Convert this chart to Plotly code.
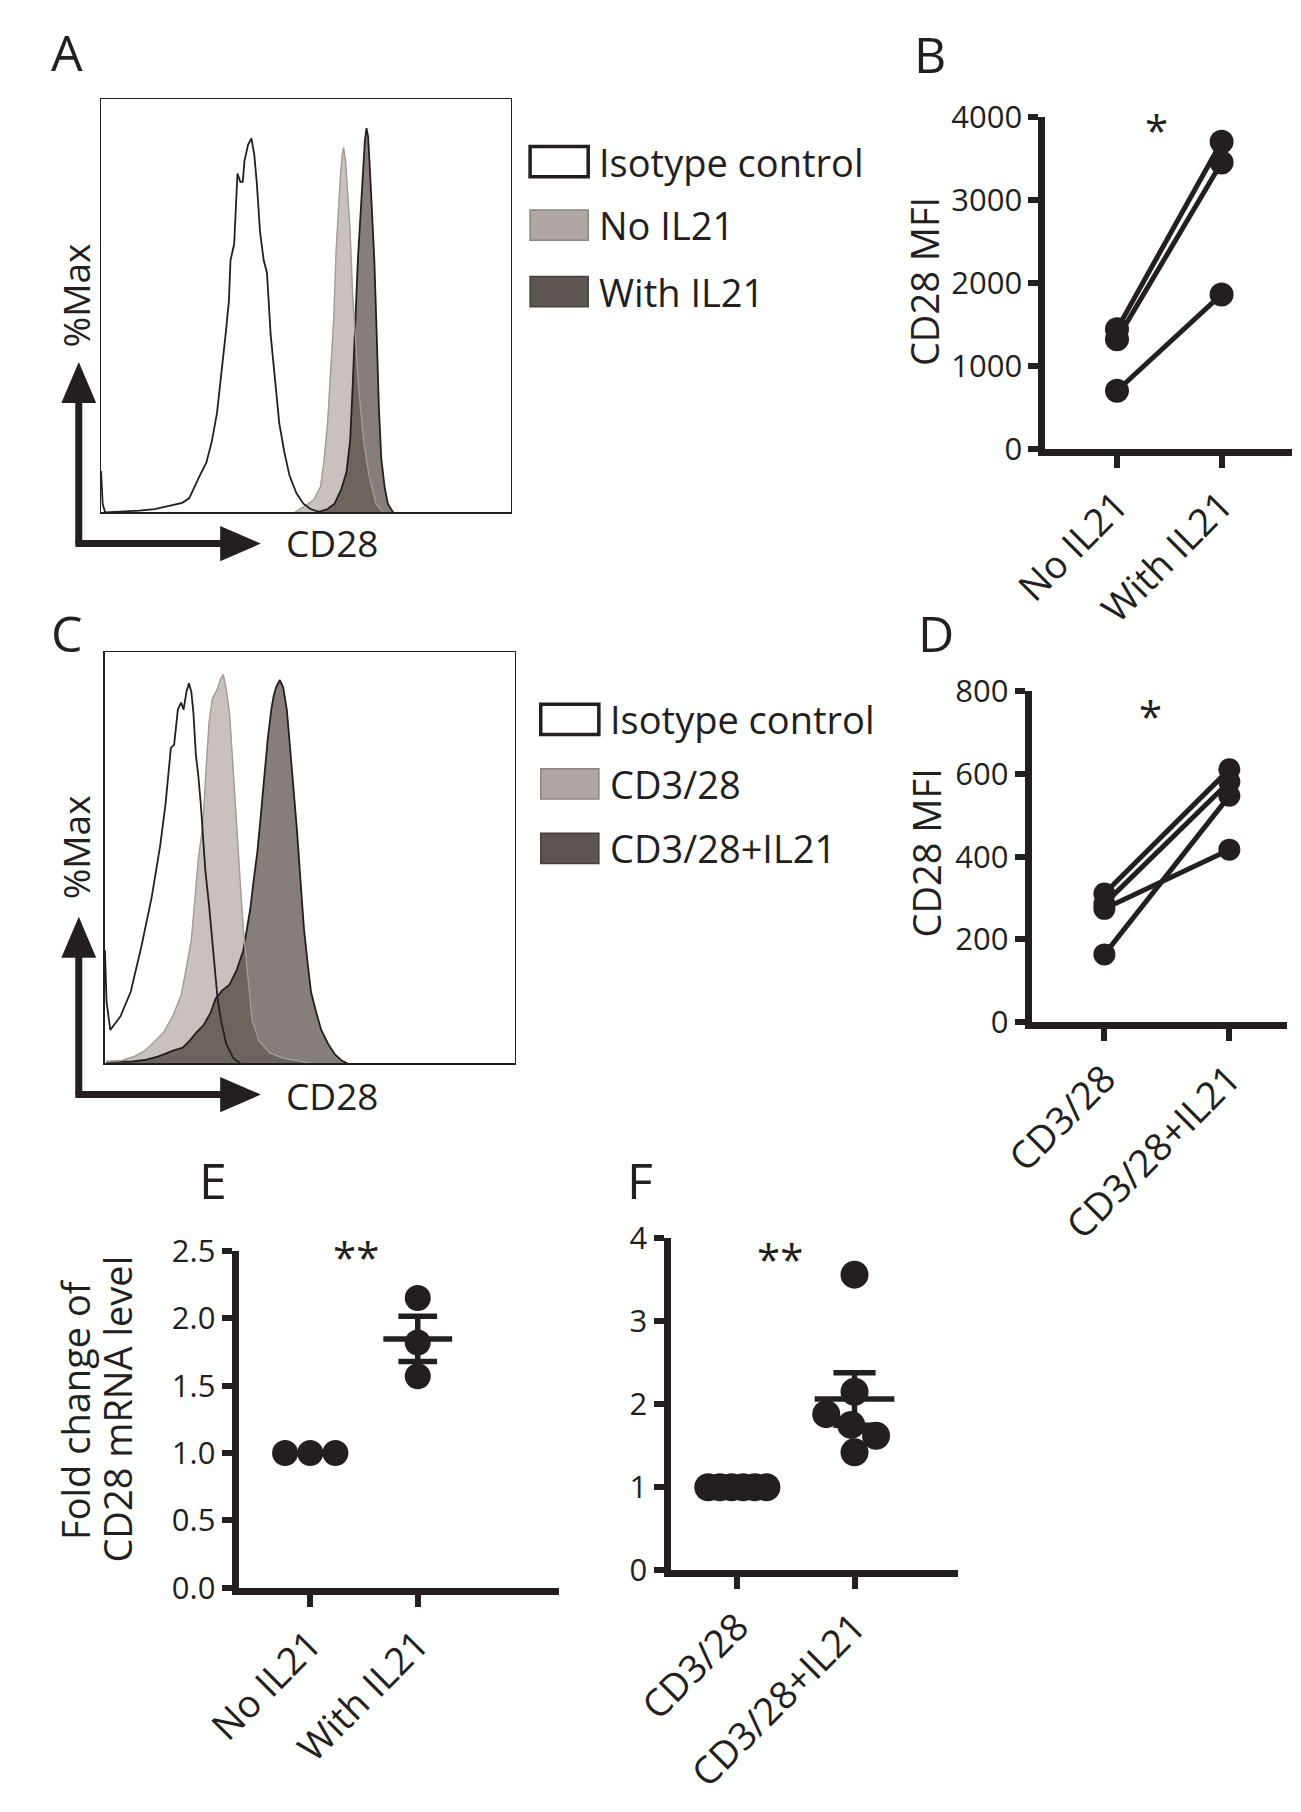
import math
import numpy as np
import plotly.graph_objects as go

# ---------------- DATA ----------------
# Panel A histograms (x: CD28 channel position 0-100, y: % of frame height)
A_iso_x = [0, 0.4, 1.0, 9.3, 13.1, 17.3, 19.8, 21.5, 22.8, 24.1, 25.7, 27.0, 28.3, 29.5, 30.4, 31.2, 31.6, 32.5,
           32.9, 33.3, 34.0, 34.6, 35.0, 35.9, 36.7, 37.4, 38.0, 38.8, 39.7, 40.5, 41.4, 42.6, 43.5, 44.7, 46.0,
           47.7, 49.4, 51.1, 53.6]
A_iso_y = [10, 2, 0, 0.4, 0.8, 1.7, 2.3, 3.4, 6.3, 8.9, 12, 17, 24, 34, 43, 51, 61, 65, 75, 82, 80, 80, 85, 89,
           90.5, 86.6, 80, 68, 61, 58, 43, 30, 21.6, 14.8, 8.9, 4.6, 2.1, 0.8, 0]
A_no_x = [47.3, 49.4, 51.9, 53.6, 54.4, 55.3, 56.1, 56.8, 57.4, 58.0, 58.5, 58.9, 59.2, 59.7, 60.2, 60.8, 61.4,
          62.0, 62.9, 64.1, 65.4, 67.1, 68.8]
A_no_y = [0, 1.3, 3.0, 6.3, 12.3, 21.6, 34.2, 46.9, 63.8, 74.8, 82.4, 86.6, 88.3, 85, 78.2, 68, 52.8, 42.7, 30,
          17.3, 8.9, 2.1, 0]
A_with_x = [52.7, 55.3, 57.0, 58.6, 59.9, 60.8, 61.4, 61.9, 62.3, 62.7, 63.3, 63.9, 64.4, 64.8, 65.2, 65.7, 66.2,
            66.7, 67.3, 67.8, 68.4, 69.2, 70.0, 71.3]
A_with_y = [0, 0.8, 2.1, 5.5, 9.7, 17.3, 30, 42.7, 52, 61.3, 71.4, 81.6, 90, 93, 90.9, 81.6, 71.4, 61.3, 42.7,
            25.8, 13.1, 6.3, 2.1, 0]
A_legend = ["Isotype control", "No IL21", "With IL21"]

# Panel C histograms
C_iso_x = [0, 0.4, 1.3, 3.8, 6.3, 8.9, 11.4, 13.5, 14.8, 16.1, 16.9, 17.8, 18.6, 19.2, 19.9, 20.5, 21.1, 21.6,
           22.2, 22.8, 23.4, 23.9, 24.5, 25.4, 26.6, 27.5, 28.3, 29.6, 31.3, 33.0]
C_iso_y = [27.5, 15, 8.1, 11.4, 17.4, 28.4, 40.3, 53, 63.1, 76.7, 77.5, 86, 87.7, 86, 90.3, 92.4, 90.3, 85.2, 75,
           69.9, 63.1, 55.5, 47, 38.6, 25.8, 15.7, 10.6, 4.7, 1.3, 0]
C_no_x = [0.4, 3.8, 7.2, 9.7, 12.3, 14.4, 16.5, 18.6, 19.9, 21.1, 22.0, 22.8, 23.7, 24.1, 24.8, 25.4, 26.2, 27.5,
          28.3, 28.9, 29.6, 30.4, 31.3, 32.1, 33.0, 33.8, 34.7, 35.9, 37.6, 40.2, 43.5, 47.8, 50.3]
C_no_y = [0.4, 0.6, 1.7, 3, 5.5, 7.6, 11.4, 16.5, 23.3, 30.1, 40.3, 49.6, 56.4, 61.4, 73.3, 82.6, 88.6, 91.1, 93.6,
          94.5, 91.1, 85.2, 71.6, 58.1, 44.5, 32.6, 22.5, 10.6, 5.5, 2.5, 1.3, 0.4, 0]
C_with_x = [0.4, 6.3, 9.7, 13.1, 16.5, 19.0, 20.7, 22.4, 24.1, 25.8, 27.0, 28.7, 30.4, 32.1, 33.8, 34.7, 35.5,
            36.3, 37.2, 38.0, 38.9, 39.7, 40.6, 41.2, 41.8, 42.7, 43.5, 44.4, 45.2, 46.1, 46.9, 47.8, 48.6, 49.5,
            50.3, 51.6, 52.8, 54.5, 56.2, 57.9, 59.2]
C_with_y = [0.4, 0.4, 0.8, 1.7, 3, 3.8, 5.5, 7.6, 9.3, 12.3, 15.7, 17.8, 19.1, 22.5, 27.5, 32.6, 37.7, 44.5, 51.3,
            59.7, 69.9, 78.4, 86, 89.4, 91.5, 93.2, 91.5, 86, 76.7, 66.5, 56.4, 43.6, 32.6, 24.2, 17.4, 12.3, 8.1,
            4.7, 2.1, 0.6, 0]
C_legend = ["Isotype control", "CD3/28", "CD3/28+IL21"]

# Panel B: CD28 MFI, paired donors
B_cats = ["No IL21", "With IL21"]
B_no = [1440, 1320, 700]
B_with = [3700, 3450, 1860]

# Panel D: CD28 MFI, paired donors
D_cats = ["CD3/28", "CD3/28+IL21"]
D_no = [311, 286, 164, 274]
D_with = [611, 581, 547, 417]

# Panel E: fold change of CD28 mRNA
E_cats = ["No IL21", "With IL21"]
E_no = [1.0, 1.0, 1.0]
E_with = [2.15, 1.82, 1.57]

# Panel F: fold change of CD28 mRNA
F_cats = ["CD3/28", "CD3/28+IL21"]
F_no = [1.0, 1.0, 1.0, 1.0, 1.0, 1.0]
F_with = [3.56, 2.15, 1.88, 1.75, 1.62, 1.42]

# ---------------- LAYOUT HELPERS ----------------
W, H = 1301, 1812
INK = "#231f20"
FONT = "Open Sans"


def px(x):
    return x / W


def py(y):
    return 1 - y / H


fig = go.Figure()
shapes = []
annots = []


def text(x, y, s, size, angle=0, xanchor="center", yanchor="middle"):
    annots.append(dict(x=px(x), y=py(y), xref="paper", yref="paper", text=s, showarrow=False,
                       font=dict(family=FONT, size=size, color=INK), textangle=angle,
                       xanchor=xanchor, yanchor=yanchor))


def rect(x0, y0, x1, y1, fill, line, lw):
    shapes.append(dict(type="rect", xref="paper", yref="paper", x0=px(x0), x1=px(x1), y0=py(y1), y1=py(y0),
                       fillcolor=fill, line=dict(color=line, width=lw)))


def arrows(cx, cy, tip_up, tip_right):
    lw = 7
    head_l, head_w = 42, 36
    shapes.append(dict(type="line", xref="paper", yref="paper", x0=px(cx), y0=py(cy), x1=px(cx),
                       y1=py(tip_up + head_l - 4), line=dict(color=INK, width=lw)))
    shapes.append(dict(type="line", xref="paper", yref="paper", x0=px(cx - lw / 2), y0=py(cy),
                       x1=px(tip_right - head_l + 4), y1=py(cy), line=dict(color=INK, width=lw)))
    p_up = "M {} {} L {} {} L {} {} Z".format(px(cx), py(tip_up), px(cx - head_w / 2), py(tip_up + head_l),
                                             px(cx + head_w / 2), py(tip_up + head_l))
    p_rt = "M {} {} L {} {} L {} {} Z".format(px(tip_right), py(cy), px(tip_right - head_l), py(cy - head_w / 2),
                                             px(tip_right - head_l), py(cy + head_w / 2))
    for p in (p_up, p_rt):
        shapes.append(dict(type="path", xref="paper", yref="paper", path=p, fillcolor=INK, line=dict(width=0)))


LIGHT_FILL = "#c8c1bd"
LIGHT_LINE = "#a29b97"
DARK_FILL = "rgba(45,33,25,0.58)"
LEG_LIGHT = "#aea7a3"
LEG_DARK = "#5c5552"

layout_axes = {}


def hist_panel(idx, box, iso, no, wi, legend, leg_x, leg_rows, arrow_cfg, max_lbl, cd_lbl):
    x0, y0, x1, y1 = box
    xa, ya = ("x", "y") if idx == 1 else ("x%d" % idx, "y%d" % idx)
    kx, ky = ("xaxis", "yaxis") if idx == 1 else ("xaxis%d" % idx, "yaxis%d" % idx)
    common = dict(showgrid=False, zeroline=False, showticklabels=False, ticks="", showline=True,
                  linecolor=INK, linewidth=1.5, mirror=True)
    layout_axes[kx] = dict(domain=[px(x0), px(x1)], range=[0, 100], anchor=ya, **common)
    layout_axes[ky] = dict(domain=[py(y1), py(y0)], range=[0, 100], anchor=xa, **common)
    fig.add_trace(go.Scatter(x=no[0], y=no[1], xaxis=xa, yaxis=ya, mode="lines", fill="tozeroy",
                             fillcolor=LIGHT_FILL, line=dict(color=LIGHT_FILL, width=0.5), showlegend=False))
    fig.add_trace(go.Scatter(x=wi[0], y=wi[1], xaxis=xa, yaxis=ya, mode="lines", fill="tozeroy",
                             fillcolor=DARK_FILL, line=dict(color=INK, width=1.8), showlegend=False))
    fig.add_trace(go.Scatter(x=no[0], y=no[1], xaxis=xa, yaxis=ya, mode="lines",
                             line=dict(color=LIGHT_LINE, width=1.4), showlegend=False))
    fig.add_trace(go.Scatter(x=iso[0], y=iso[1], xaxis=xa, yaxis=ya, mode="lines",
                             line=dict(color=INK, width=1.8), showlegend=False))
    # legend
    bw, bh = 60, 31
    styles = [("white", INK, 3.5), (LEG_LIGHT, "#8b8480", 1.5), (LEG_DARK, "#45403d", 1.5)]
    for (lab, ry, st) in zip(legend, leg_rows, styles):
        rect(leg_x, ry - bh / 2, leg_x + bw, ry + bh / 2, st[0], st[1], st[2])
        text(leg_x + bw + 9, ry, lab, 38, xanchor="left")
    arrows(*arrow_cfg)
    text(max_lbl[0], max_lbl[1], "%Max", 37, angle=-90)
    text(cd_lbl[0], cd_lbl[1], "CD28", 37)


hist_panel(1, (62, 79, 485, 502), (A_iso_x, A_iso_y), (A_no_x, A_no_y), (A_with_x, A_with_y), A_legend,
           505, [143, 208, 276], (39, 534, 348, 227), (36, 280), (300, 533))
hist_panel(3, (66, 645, 489, 1066), (C_iso_x, C_iso_y), (C_no_x, C_no_y), (C_with_x, C_with_y), C_legend,
           516, [714, 780, 846], (39, 1098, 916, 227), (36, 845), (300, 1099))


def swarm(vals, diam, ppu_y, max_half):
    vals = np.asarray(vals, dtype=float)
    order = np.argsort(-vals, kind="stable")[::-1]
    placed = []
    offs = np.zeros(len(vals))
    for i in order:
        yv = vals[i] * ppu_y
        cands = [0.0]
        for (yy, xx) in placed:
            dy = abs(yv - yy)
            if dy < diam:
                d = math.sqrt(diam ** 2 - dy ** 2)
                cands += [xx + d, xx - d]
        cands.sort(key=lambda c: (round(abs(c), 6), -c))
        for c in cands:
            if all((c - xx) ** 2 + (yv - yy) ** 2 >= diam ** 2 - 1e-6 for (yy, xx) in placed):
                break
        placed.append((yv, c))
        offs[i] = c
    if np.ptp(vals) == 0:
        offs -= (offs.max() + offs.min()) / 2
    m = np.abs(offs).max()
    if m > max_half:
        offs *= max_half / m
    return offs


def dot_axes(idx, cfg, cats, ymax, dtick, fmt):
    axl, axr, ytop, ybot, c0, c1 = cfg
    sp = c1 - c0
    xa, ya = "x%d" % idx, "y%d" % idx
    layout_axes["xaxis%d" % idx] = dict(
        domain=[px(axl), px(axr)], range=[-(c0 - axl) / sp, 1 + (axr - c1) / sp], anchor=ya,
        showgrid=False, zeroline=False, showline=True, linecolor=INK, linewidth=7,
        tickmode="array", tickvals=[0, 1], ticktext=cats, ticks="outside", ticklen=12, tickwidth=6,
        tickcolor=INK, tickangle=-45, tickfont=dict(family=FONT, size=38, color=INK))
    layout_axes["yaxis%d" % idx] = dict(
        domain=[py(ybot), py(ytop)], range=[0, ymax], anchor=xa,
        showgrid=False, zeroline=False, showline=True, linecolor=INK, linewidth=7,
        tickmode="linear", tick0=0, dtick=dtick, tickformat=fmt, ticks="outside", ticklen=10, tickwidth=6,
        tickcolor=INK, tickfont=dict(family=FONT, size=31, color=INK))
    return xa, ya, sp, (ybot - ytop) / ymax


# Panel B
B_cfg = (1037, 1292, 97, 437, 1111, 1219)
xa, ya, _, _ = dot_axes(2, B_cfg, B_cats, 4000, 1000, "d")
for a, b in zip(B_no, B_with):
    fig.add_trace(go.Scatter(x=[0, 1], y=[a, b], xaxis=xa, yaxis=ya, mode="lines+markers",
                             line=dict(color=INK, width=5), marker=dict(color=INK, size=24),
                             cliponaxis=False, showlegend=False))

# Panel D
D_cfg = (1023, 1287, 685, 1024, 1098, 1227)
xa, ya, _, _ = dot_axes(4, D_cfg, D_cats, 800, 200, "d")
for a, b in zip(D_no, D_with):
    fig.add_trace(go.Scatter(x=[0, 1], y=[a, b], xaxis=xa, yaxis=ya, mode="lines+markers",
                             line=dict(color=INK, width=5), marker=dict(color=INK, size=22),
                             cliponaxis=False, showlegend=False))


def scatter_panel(idx, cfg, cats, groups, ymax, dtick, fmt, msize, half_mean, half_cap):
    xa, ya, sp, ppu = dot_axes(idx, cfg, cats, ymax, dtick, fmt)
    for gi, vals in enumerate(groups):
        offs = swarm(vals, msize, ppu, 30) / sp
        fig.add_trace(go.Scatter(x=gi + offs, y=vals, xaxis=xa, yaxis=ya, mode="markers",
                                 marker=dict(color=INK, size=msize), cliponaxis=False, showlegend=False))
        arr = np.asarray(vals, dtype=float)
        mean = arr.mean()
        sem = arr.std(ddof=1) / math.sqrt(len(arr))
        fig.add_trace(go.Scatter(x=[gi - half_mean, gi + half_mean], y=[mean, mean], xaxis=xa, yaxis=ya,
                                 mode="lines", line=dict(color=INK, width=5.5), showlegend=False))
        if sem > 0:
            for yy in (mean - sem, mean + sem):
                fig.add_trace(go.Scatter(x=[gi - half_cap, gi + half_cap], y=[yy, yy], xaxis=xa, yaxis=ya,
                                         mode="lines", line=dict(color=INK, width=5.5), showlegend=False))
            fig.add_trace(go.Scatter(x=[gi, gi], y=[mean - sem, mean + sem], xaxis=xa, yaxis=ya,
                                     mode="lines", line=dict(color=INK, width=5.5), showlegend=False))


scatter_panel(5, (204, 535, 1258, 1603, 278, 389), E_cats, [E_no, E_with], 2.5, 0.5, ".1f", 26, 0.32, 0.18)
scatter_panel(6, (650, 947, 1245, 1585, 719, 840), F_cats, [F_no, F_with], 4, 1, "d", 28, 0.34, 0.18)

# titles, letters, significance marks
text(912, 266, "CD28 MFI", 38, angle=-90)
text(914, 851, "CD28 MFI", 38, angle=-90)
text(35, 1420, "Fold change of", 38, angle=-90)
text(79, 1420, "CD28 mRNA level", 38, angle=-90)
for (lx, ly, s) in [(27, 31, "A"), (918, 33, "B"), (27, 625, "C"), (924, 625, "D"), (178, 1185, "E"),
                    (618, 1185, "F")]:
    text(lx, ly, s, 50)
text(1152, 110, "*", 42)
text(1146, 710, "*", 42)
text(325, 1264, "**", 42)
text(763, 1266, "**", 42)

fig.update_layout(width=W, height=H, margin=dict(l=0, r=0, t=0, b=0), autosize=False,
                  paper_bgcolor="white", plot_bgcolor="rgba(0,0,0,0)", showlegend=False,
                  shapes=shapes, annotations=annots, **layout_axes)
fig.write_html("out.html", config={"displayModeBar": False, "staticPlot": True},
               post_script="document.body.style.margin='0px';document.body.style.padding='0px';")
